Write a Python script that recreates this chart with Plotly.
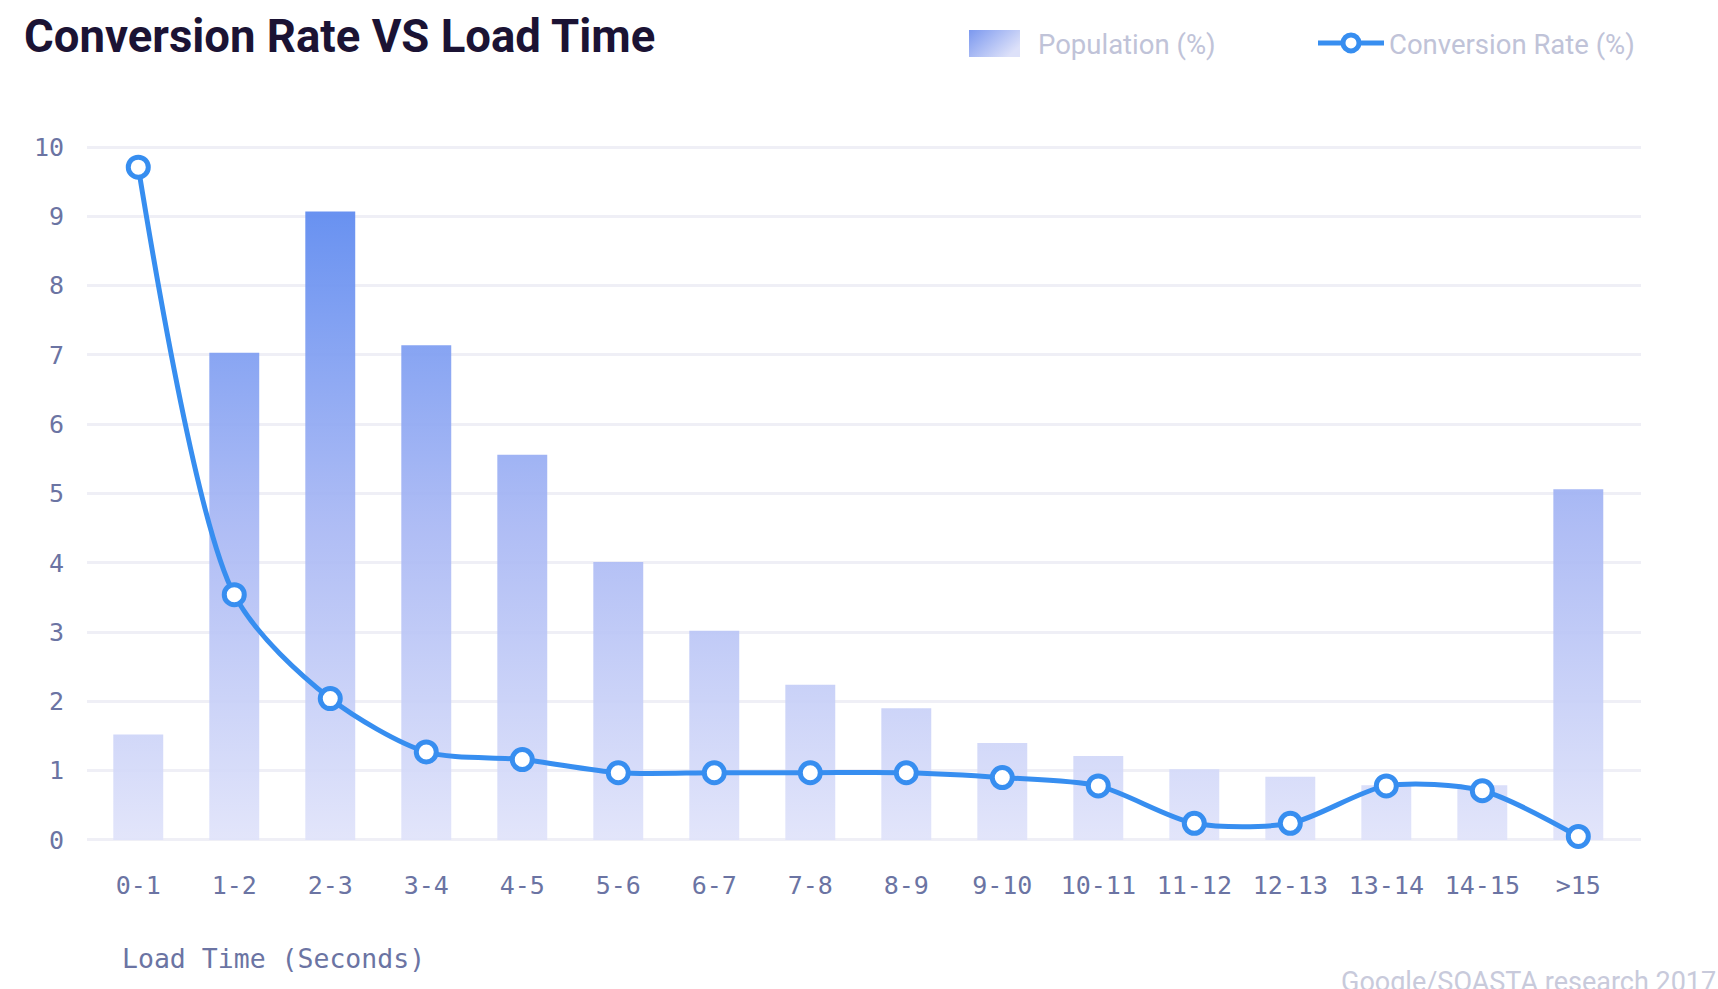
import base64
import plotly.graph_objects as go

# ---- data ----
categories = ["0-1", "1-2", "2-3", "3-4", "4-5", "5-6", "6-7", "7-8",
              "8-9", "9-10", "10-11", "11-12", "12-13", "13-14", "14-15", ">15"]
population = [1.52, 7.03, 9.07, 7.14, 5.56, 4.01, 3.02, 2.24,
              1.90, 1.40, 1.21, 1.02, 0.91, 0.79, 0.79, 5.06]
conversion = [9.71, 3.54, 2.04, 1.27, 1.16, 0.97, 0.97, 0.97,
              0.97, 0.90, 0.78, 0.24, 0.24, 0.78, 0.71, 0.05]
y_ticks = list(range(0, 11))

# ---- styling ----
BAR_WIDTH = 0.52
LINE_COLOR = "#378ef0"
TICK_COLOR = "#6b74a3"
LEGEND_COLOR = "#c0c3d8"
COND_FONT = "Liberation Sans Narrow, Roboto, sans-serif"
MONO_FONT = "DejaVu Sans Mono, Liberation Mono, monospace"

# plot-area geometry (pixels)
PL, PR, PT, PB = 87, 1641, 145, 842
PW, PH = PR - PL, PB - PT

idx = list(range(len(categories)))

# bars as filled rectangles (so a vertical gradient can be applied)
bx, by = [], []
for i, v in zip(idx, population):
    x0, x1 = i - BAR_WIDTH / 2, i + BAR_WIDTH / 2
    bx += [x0, x0, x1, x1, x0, None]
    by += [0, v, v, 0, 0, None]

fig = go.Figure()
fig.add_trace(go.Scatter(
    x=bx, y=by, mode="lines", fill="toself",
    line=dict(width=0, color="rgba(0,0,0,0)"),
    fillgradient=dict(
        type="vertical",
        colorscale=[[0, "rgba(224,227,250,0.92)"],
                    [0.5, "rgba(168,183,244,0.92)"],
                    [1, "rgba(98,141,240,0.96)"]],
        start=0, stop=max(population),
    ),
    name="Population (%)", hoverinfo="skip", showlegend=False,
))
# legend entry for the population series (swatch drawn as gradient image below)
fig.add_trace(go.Scatter(
    x=[None], y=[None], mode="lines",
    line=dict(width=0, color="rgba(0,0,0,0)"),
    name="Population (%)", hoverinfo="skip",
))
fig.add_trace(go.Scatter(
    x=idx, y=conversion, mode="lines+markers",
    line=dict(color=LINE_COLOR, width=5, shape="spline", smoothing=0.8),
    marker=dict(size=20, color="white", line=dict(color=LINE_COLOR, width=5)),
    cliponaxis=False, name="Conversion Rate (%)",
))

def px_x(p):
    return (p - PL) / PW

def px_y(p):
    return (PB - p) / PH

svg = ('<svg xmlns="http://www.w3.org/2000/svg" width="51" height="27">'
       '<defs><linearGradient id="g" x1="0" y1="0" x2="1" y2="0.6">'
       '<stop offset="0" stop-color="#7b98ef"/>'
       '<stop offset="1" stop-color="#dde1f9"/></linearGradient></defs>'
       '<rect width="51" height="27" fill="url(#g)"/></svg>')
svg_uri = "data:image/svg+xml;base64," + base64.b64encode(svg.encode()).decode()

fig.update_layout(
    width=1718, height=989, autosize=False,
    margin=dict(l=PL, r=1718 - PR, t=PT, b=989 - PB),
    paper_bgcolor="white", plot_bgcolor="white",
    title=dict(text="Conversion Rate VS Load Time",
               font=dict(family=COND_FONT, size=45.5, color="#1b1334", weight="bold"),
               x=24 / 1718, xref="container", xanchor="left",
               y=1 - 20 / 989, yref="container", yanchor="top"),
    legend=dict(orientation="h", xref="paper", yref="paper",
                x=px_x(962), xanchor="left",
                y=px_y(43), yanchor="middle",
                font=dict(family=COND_FONT, size=27.5, color=LEGEND_COLOR),
                itemwidth=66, entrywidth=270, bgcolor="rgba(0,0,0,0)"),
    showlegend=True,
    images=[dict(source=svg_uri, xref="paper", yref="paper",
                 x=px_x(969), y=px_y(30), sizex=51 / PW, sizey=27 / PH,
                 xanchor="left", yanchor="top", sizing="stretch", layer="above")],
)

fig.update_xaxes(
    range=[-0.534, 15.653], tickvals=idx, ticktext=categories,
    showgrid=False, zeroline=False, showline=False, ticks="",
    ticklabelstandoff=26,
    tickfont=dict(family=MONO_FONT, size=25, color=TICK_COLOR),
)
fig.update_yaxes(
    range=[-0.03, 10.03], tickvals=y_ticks,
    showgrid=True, gridcolor="#efeff6", gridwidth=3,
    zeroline=False, showline=False, ticks="",
    ticklabelstandoff=22,
    tickfont=dict(family=MONO_FONT, size=25, color=TICK_COLOR),
)

fig.add_annotation(
    text="Load Time (Seconds)", showarrow=False,
    xref="paper", yref="paper", x=px_x(120), xanchor="left",
    y=px_y(958), yanchor="middle",
    font=dict(family=MONO_FONT, size=26.5, color=TICK_COLOR),
)
fig.add_annotation(
    text="Google/SOASTA research 2017", showarrow=False,
    xref="paper", yref="paper", x=px_x(1718), xanchor="right",
    y=px_y(964), yanchor="top",
    font=dict(family=COND_FONT, size=27, color="#c8cadb"),
)

fig.write_html("out.html")
